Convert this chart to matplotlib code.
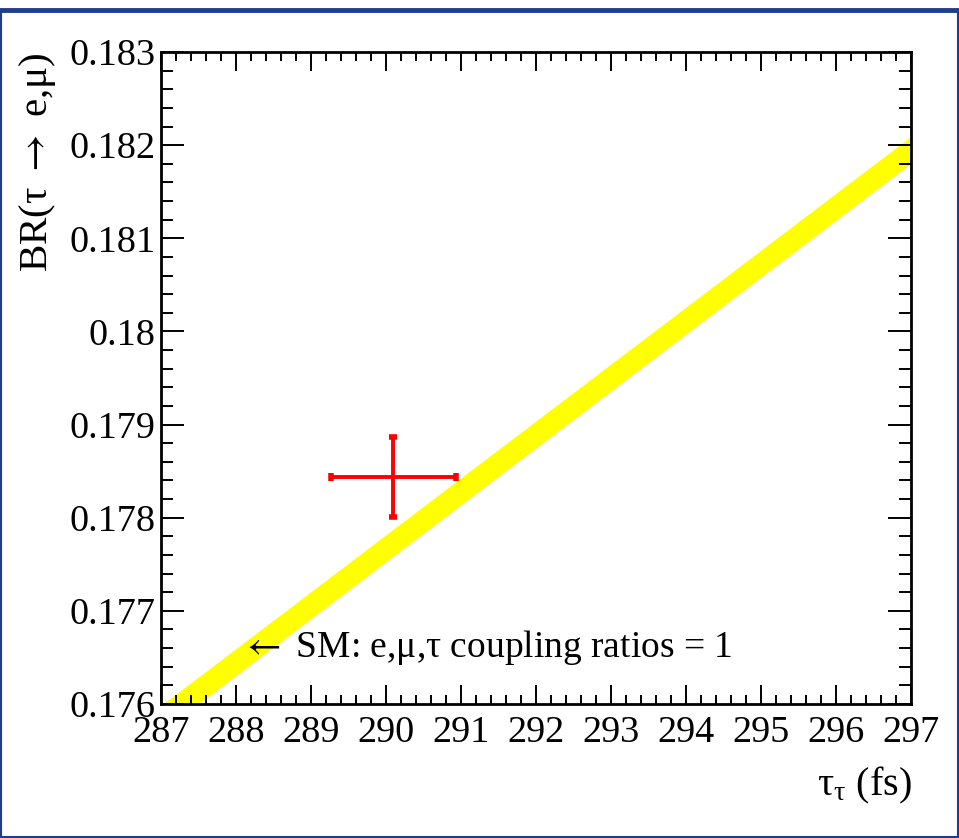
#!/usr/bin/env python3
"""BR(tau -> e,mu) vs tau lifetime, SM band and measured point."""
import matplotlib
matplotlib.use("Agg")
import matplotlib.pyplot as plt
from matplotlib.ticker import MultipleLocator, FormatStrFormatter
from matplotlib.lines import Line2D

plt.rcParams.update({
    "font.family": ["Liberation Serif", "DejaVu Serif"],
    "mathtext.fontset": "custom",
    "mathtext.rm": "Liberation Serif",
    "mathtext.it": "Liberation Serif:italic",
    "mathtext.sf": "STIXGeneral",
    "font.size": 27.5,
})

# SM expectation band (lepton universality), endpoints of the band
tau_sm = [287.0, 297.0]
br_sm = [0.17584, 0.18195]
br_sm_err = 0.000145

# measurement
tau_meas = 290.10
tau_meas_err = 0.83
br_meas = 0.17844
br_meas_err = 0.00043

x_range = (287, 297)
y_range = (0.176, 0.183)

sm_label = "$\\mathsf{\\leftarrow}$ SM: e,\u03bc,\u03c4 coupling ratios = 1"
y_title = "BR(\u03c4 $\\mathsf{\\rightarrow}$ e,\u03bc)"
x_title = "\u03c4$_{\\mathrm{\u03c4}}$ (fs)"

fig = plt.figure(figsize=(9.59, 8.38), dpi=100)
ax = fig.add_axes([0.1679, 0.1599, 0.782, 0.778])

lo = [b - br_sm_err for b in br_sm]
hi = [b + br_sm_err for b in br_sm]
ax.fill_between(tau_sm, lo, hi, color="#ffff00", lw=0, zorder=1)

ax.errorbar(tau_meas, br_meas, xerr=tau_meas_err, yerr=br_meas_err,
            fmt="none", ecolor="#ff0000", elinewidth=2.8, capsize=2.6,
            capthick=4, zorder=3)

ax.text(288.07, 0.1765, sm_label, fontsize=27, ha="left", va="baseline",
        zorder=4)

ax.set_xlim(*x_range); ax.set_ylim(*y_range)
ax.xaxis.set_major_locator(MultipleLocator(1))
ax.xaxis.set_minor_locator(MultipleLocator(0.2))
ax.yaxis.set_major_locator(MultipleLocator(0.001))
ax.yaxis.set_minor_locator(MultipleLocator(0.0002))
ax.xaxis.set_major_formatter(FormatStrFormatter("%g"))
ax.yaxis.set_major_formatter(FormatStrFormatter("%g"))

for s in ax.spines.values():
    s.set_linewidth(2.0)
ax.tick_params(which="both", direction="in", top=True, right=True, width=1.4)
ax.tick_params(axis="y", which="major", length=16.5, pad=4)
ax.tick_params(axis="y", which="minor", length=8.5)
ax.tick_params(axis="x", which="major", length=13.7, pad=8)
ax.tick_params(axis="x", which="minor", length=6.5)

fig.text(38 / 959, 1 - 53 / 838, y_title, rotation=90,
         ha="center", va="top", fontsize=29.5)
fig.text(912 / 959, 1 - 795 / 838, x_title,
         ha="right", va="baseline", fontsize=29)

# canvas frame
blue = "#203c8c"
fig.add_artist(Line2D([0, 1], [1 - 10 / 838] * 2, color=blue, lw=3.5,
                      transform=fig.transFigure))
fig.add_artist(Line2D([0.0008, 0.0008], [0, 1 - 10 / 838], color=blue, lw=1.5,
                      transform=fig.transFigure))
fig.add_artist(Line2D([0.9992, 0.9992], [0, 1 - 10 / 838], color=blue, lw=1.5,
                      transform=fig.transFigure))
fig.add_artist(Line2D([0, 1], [1.5 / 838] * 2, color=blue, lw=1.5,
                      transform=fig.transFigure))

fig.savefig("out.png", dpi=100)
